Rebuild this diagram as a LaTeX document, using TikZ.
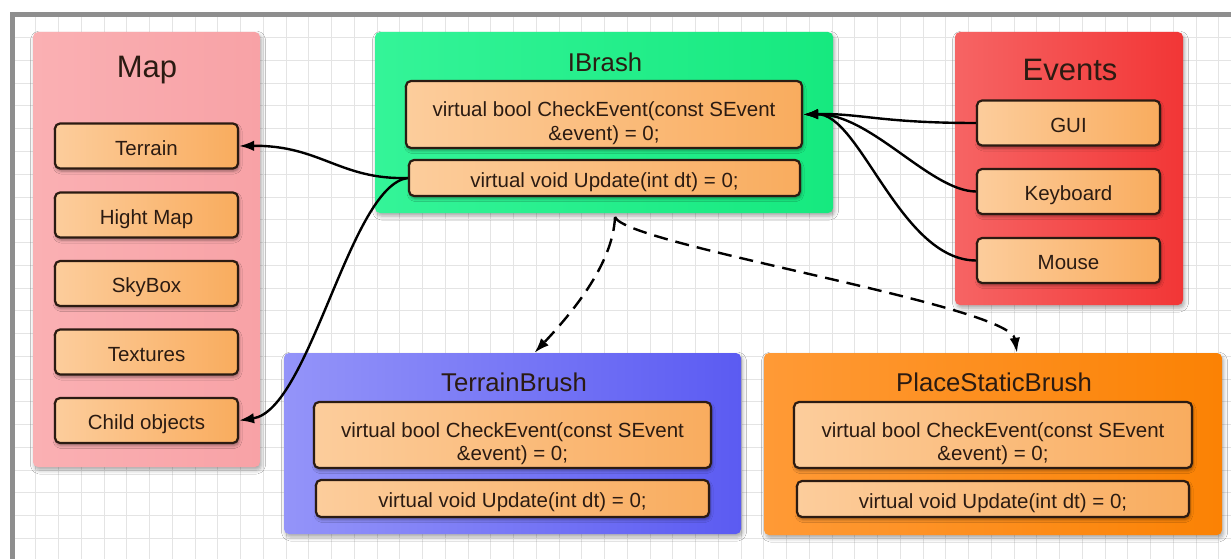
\documentclass[tikz,border=0pt]{standalone}
\usepackage{fontspec}
\setmainfont{Liberation Sans}
\usetikzlibrary{arrows.meta, shadows.blur, calc}

\definecolor{inkbrown}{HTML}{2B1B12}
\definecolor{itemL}{HTML}{FCCD9C}
\definecolor{itemR}{HTML}{F9AC5E}
\definecolor{mapL}{HTML}{FAB0B3}
\definecolor{mapR}{HTML}{F8A2A6}
\definecolor{ibL}{HTML}{34F498}
\definecolor{ibR}{HTML}{16E97F}
\definecolor{evL}{HTML}{F66464}
\definecolor{evR}{HTML}{F23636}
\definecolor{tbL}{HTML}{9494F9}
\definecolor{tbR}{HTML}{5B5BF2}
\definecolor{pbL}{HTML}{FF9A36}
\definecolor{pbR}{HTML}{FB8204}
\definecolor{gridgray}{HTML}{E4E4E4}
\definecolor{framegray}{HTML}{8E8E8E}

\begin{document}
\begin{tikzpicture}[x=1pt, y=-1pt,
        panel/.style 2 args={left color=#1, right color=#2, rounded corners=5pt, inner sep=0pt,
            blur shadow={shadow xshift=1.5pt, shadow yshift=-3pt, shadow blur radius=4pt, shadow opacity=35}},
        itembox/.style={left color=itemL, right color=itemR, draw=inkbrown, line width=2.2pt,
            rounded corners=5pt, inner sep=0pt, align=center, text=inkbrown,
            font=\fontsize{20.5}{23.5}\selectfont, text height=18.5pt, text depth=0pt,
            blur shadow={shadow xshift=1pt, shadow yshift=-2.5pt, shadow blur radius=3pt, shadow opacity=40}},
        checkbox/.style={itembox, text height=56pt, text depth=5pt},
        head/.style={text=inkbrown, font=\fontsize{25.7}{30}\selectfont},
        bighead/.style={text=inkbrown, font=\fontsize{31}{36}\selectfont},
        link/.style={draw=black, line width=2.4pt, -{Latex[length=15pt, width=10.5pt]}},
        dlink/.style={link, dash pattern=on 14pt off 8pt}]
        \useasboundingbox (0,0) rectangle (1231,559);
        \fill[white] (0,0) rectangle (1231,559);

        \foreach \k in {1,...,54} {
            \draw[gridgray, line width=1pt] (13+22.75*\k,15) -- (13+22.75*\k,570);
        }
        \foreach \k in {1,...,24} {
            \draw[gridgray, line width=1pt] (13,15+22.75*\k) -- (1240,15+22.75*\k);
        }
        \draw[framegray, line width=5pt] (12.5,14.5) rectangle (1260,590);

        \node[panel={mapL}{mapR}, minimum width=227, minimum height=435] (map) at (146.5,249.5) {};
        \node[panel={ibL}{ibR}, minimum width=458, minimum height=181] (ibrash) at (604,122.5) {};
        \node[panel={evL}{evR}, minimum width=228, minimum height=273] (events) at (1069,168.5) {};
        \node[panel={tbL}{tbR}, minimum width=457, minimum height=181] (tbrush) at (512.5,443.5) {};
        \node[panel={pbL}{pbR}, minimum width=458, minimum height=182] (pbrush) at (993,444) {};

        \node[bighead] (maptitle) at (147,70) {Map};
        \node[bighead] (evtitle) at (1070,70) {Events};
        \node[head] (ibtitle) at (605,62) {IBrash};
        \node[head] (tbtitle) at (514,382) {TerrainBrush};
        \node[head] (pbtitle) at (994,382) {PlaceStaticBrush};

        \node[itembox, minimum width=183, minimum height=45] (terrain) at (146.5,146) {Terrain};
        \node[itembox, minimum width=183, minimum height=45] (hmap) at (146.5,215) {Hight Map};
        \node[itembox, minimum width=183, minimum height=45] (skybox) at (146.5,283.5) {SkyBox};
        \node[itembox, minimum width=183, minimum height=45] (textures) at (146.5,352) {Textures};
        \node[itembox, minimum width=183, minimum height=45] (child) at (146.5,420.5) {Child objects};

        \node[itembox, minimum width=183, minimum height=45] (gui) at (1068.5,123) {GUI};
        \node[itembox, minimum width=183, minimum height=45] (keyboard) at (1068.5,191.5) {Keyboard};
        \node[itembox, minimum width=183, minimum height=45] (mouse) at (1068.5,260.5) {Mouse};

        \node[checkbox, minimum width=396, minimum height=67] (ibcheck) at (604,114.5) {virtual bool CheckEvent(const SEvent\\\&event) = 0;};
        \node[itembox, minimum width=391, minimum height=36] (ibupd) at (604.5,178) {virtual void Update(int dt) = 0;};
        \node[checkbox, minimum width=397, minimum height=66] (tbcheck) at (512.5,435) {virtual bool CheckEvent(const SEvent\\\&event) = 0;};
        \node[itembox, minimum width=393, minimum height=37] (tbupd) at (512.5,498.5) {virtual void Update(int dt) = 0;};
        \node[checkbox, minimum width=398, minimum height=66] (pbcheck) at (993,435) {virtual bool CheckEvent(const SEvent\\\&event) = 0;};
        \node[itembox, minimum width=392, minimum height=36] (pbupd) at (993,499) {virtual void Update(int dt) = 0;};

        \draw[link] (ibupd.west) .. controls (340,180) and (320,145) .. (terrain.east);
        \draw[link] (ibupd.west) .. controls (350,185) and (310,410) .. (child.east);

        \draw[link] (gui.west) .. controls (880,123) and (860,113) .. (ibcheck.east);
        \draw[link] (keyboard.west) .. controls (930,191) and (870,113) .. (ibcheck.east);
        \draw[link] (mouse.west) .. controls (900,260) and (860,113) .. (ibcheck.east);

        \coordinate (fork) at (615,217);
        \draw[dlink] (fork) .. controls (613,265) and (570,315) .. ($(tbrush.north)+(22,0)$);
        \draw[dlink] (fork) .. controls (625,245) and (1010,305) .. ($(pbrush.north)+(24,0)$);
\end{tikzpicture}
\end{document}
